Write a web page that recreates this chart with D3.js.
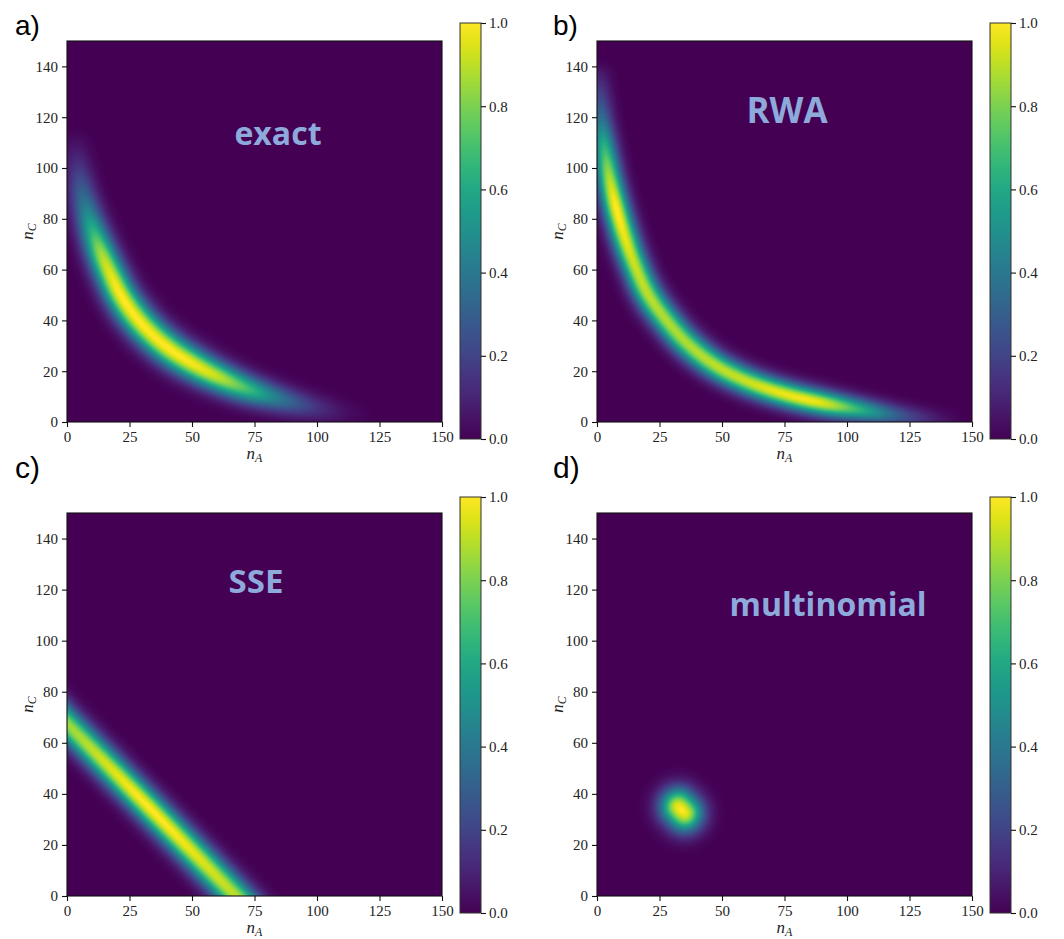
<!DOCTYPE html>
<html>
<head>
<meta charset="utf-8">
<script src="https://cdn.jsdelivr.net/npm/d3@7"></script>
<style>
  body { margin: 0; background: #fff; }
  svg { display: block; }
</style>
</head>
<body>
<div id="chart"></div>
<script>
// ticks
var xTicks = [0, 25, 50, 75, 100, 125, 150];
var yTicks = [0, 20, 40, 60, 80, 100, 120, 140];
var cbTicks = [0, 0.2, 0.4, 0.6, 0.8, 1.0];

// ridge centre lines: [nA, nC, peak, width]
var ridgeExact = [
	[3.5, 108, 0.05, 3.6],
	[4.5, 100, 0.15, 3.7],
	[6, 91, 0.3, 3.8],
	[8, 83, 0.45, 3.9],
	[10.5, 75, 0.65, 4.0],
	[13.5, 67, 0.85, 4.1],
	[17, 59, 0.95, 4.2],
	[21.5, 50, 1.0, 4.3],
	[27, 42, 1.0, 4.4],
	[34, 34.5, 1.0, 4.4],
	[42, 28, 1.0, 4.4],
	[51, 22.5, 0.98, 4.3],
	[61, 17.5, 0.9, 4.1],
	[72, 13, 0.7, 3.9],
	[84, 9.3, 0.42, 3.7],
	[96, 6.3, 0.2, 3.5],
	[108, 4, 0.06, 3.3],
	[118, 2.5, 0.01, 3.1]
];
var ridgeRWA = [
	[0.5, 135, 0.1, 3.2],
	[1.5, 120, 0.35, 3.3],
	[3, 108, 0.65, 3.4],
	[5, 96, 0.88, 3.5],
	[7.5, 85, 1.0, 3.6],
	[11, 73, 0.97, 3.7],
	[15, 62, 0.92, 3.7],
	[20, 51, 0.9, 3.8],
	[27, 41, 0.88, 3.8],
	[36, 31, 0.88, 3.8],
	[47, 22.5, 0.9, 3.7],
	[60, 16, 0.92, 3.6],
	[75, 11, 0.97, 3.5],
	[90, 7.5, 0.95, 3.4],
	[105, 4.8, 0.65, 3.2],
	[120, 2.5, 0.3, 3.0],
	[133, 1, 0.1, 2.9],
	[142, 0, 0.02, 2.8]
];
var ridgeSSE = [
	[-10, 77.5, 0.85, 4.0],
	[0, 67.5, 0.85, 4.0],
	[33, 34.5, 1.0, 4.0],
	[67, 0.5, 0.9, 4.2],
	[77, -9.5, 0.9, 4.2]
];
var ridgeMultinomial = [
	[32.6, 34.9, 0.97, 5.0],
	[33.8, 33.7, 1.0, 5.0],
	[35.0, 32.5, 0.97, 5.0]
];

var panelLetters = ["a)", "b)", "c)", "d)"];
var panelNames = ["exact", "RWA", "SSE", "multinomial"];
// where the inset name sits, in data units [nA, nC]
var nameSpots = [[84.4, 109], [76, 117.7], [75.6, 118.8], [92.4, 109.8]];

var ridges = [ridgeExact, ridgeRWA, ridgeSSE, ridgeMultinomial];

// layout of the four panels
var layout = [
	{left: 67, top: 41, w: 375, h: 381, cbX: 460, cbTop: 23, cbBot: 439, lx: 15, ly: 35, lsize: 28, nsize: 32},
	{left: 597, top: 41, w: 375, h: 381, cbX: 990, cbTop: 23, cbBot: 439, lx: 553, ly: 35, lsize: 28, nsize: 35},
	{left: 67, top: 513, w: 375, h: 383, cbX: 460, cbTop: 497, cbBot: 913, lx: 15, ly: 478, lsize: 30, nsize: 33},
	{left: 597, top: 513, w: 375, h: 383, cbX: 990, cbTop: 497, cbBot: 913, lx: 553, ly: 478, lsize: 30, nsize: 32}
];

var color = d3.scaleSequential(d3.interpolateViridis).domain([0, 1]);
var tickFont = "'Liberation Serif', 'Times New Roman', serif";

var svg = d3.select("#chart").append("svg")
	.attr("width", 1064)
	.attr("height", 939);

// colorbar gradient
var grad = svg.append("defs").append("linearGradient")
	.attr("id", "viridis")
	.attr("x1", 0).attr("y1", 1).attr("x2", 0).attr("y2", 0);
d3.range(0, 1.0001, 0.05).forEach(function(t) {
	grad.append("stop").attr("offset", t).attr("stop-color", color(t));
});

// smooth the read points (Catmull-Rom) so the drawn ridge has no corners
function smoothRidge(pts, steps) {
	var out = [];
	var n = pts.length;
	for (var i = 0; i < n - 1; i++) {
		var p0 = pts[Math.max(0, i - 1)], p1 = pts[i], p2 = pts[i + 1], p3 = pts[Math.min(n - 1, i + 2)];
		for (var s = 0; s < steps; s++) {
			var t = s / steps, t2 = t * t, t3 = t2 * t;
			out.push(p1.map(function(_, m) {
				return 0.5 * (2 * p1[m] + (-p0[m] + p2[m]) * t +
					(2 * p0[m] - 5 * p1[m] + 4 * p2[m] - p3[m]) * t2 +
					(-p0[m] + 3 * p1[m] - 3 * p2[m] + p3[m]) * t3);
			}));
		}
	}
	out.push(pts[n - 1]);
	return out;
}

// value of the field at a point, from the ridge line
function fieldAt(pts, a, c) {
	var best = 0;
	for (var i = 0; i < pts.length - 1; i++) {
		var p1 = pts[i], p2 = pts[i + 1];
		var dx = p2[0] - p1[0], dy = p2[1] - p1[1];
		var len2 = dx * dx + dy * dy || 1e-9;
		var t = ((a - p1[0]) * dx + (c - p1[1]) * dy) / len2;
		t = Math.max(0, Math.min(1, t));
		var qx = p1[0] + t * dx, qy = p1[1] + t * dy;
		var d2 = (a - qx) * (a - qx) + (c - qy) * (c - qy);
		var pk = p1[2] + t * (p2[2] - p1[2]);
		var s = p1[3] + t * (p2[3] - p1[3]);
		var v = pk * Math.exp(-d2 / (2 * s * s));
		if (v > best) best = v;
	}
	return best;
}

layout.forEach(function(p, k) {

	var x = d3.scaleLinear().domain([0, 150]).range([p.left, p.left + p.w]);
	var y = d3.scaleLinear().domain([0, 150]).range([p.top + p.h, p.top]);
	var line = smoothRidge(ridges[k], 8);

	// heatmap drawn pixel by pixel into a canvas
	var cnv = document.createElement("canvas");
	cnv.width = p.w;
	cnv.height = p.h;
	var ctx = cnv.getContext("2d");
	var img = ctx.createImageData(p.w, p.h);
	for (var j = 0; j < p.h; j++) {
		var nC = y.invert(p.top + j + 0.5);
		for (var i = 0; i < p.w; i++) {
			var nA = x.invert(p.left + i + 0.5);
			var c = d3.rgb(color(fieldAt(line, nA, nC)));
			var o = (j * p.w + i) * 4;
			img.data[o] = c.r;
			img.data[o + 1] = c.g;
			img.data[o + 2] = c.b;
			img.data[o + 3] = 255;
		}
	}
	ctx.putImageData(img, 0, 0);

	svg.append("image")
		.attr("x", p.left)
		.attr("y", p.top)
		.attr("width", p.w)
		.attr("height", p.h)
		.attr("href", cnv.toDataURL());

	// frame
	svg.append("rect")
		.attr("x", p.left)
		.attr("y", p.top)
		.attr("width", p.w)
		.attr("height", p.h)
		.attr("fill", "none")
		.attr("stroke", "#111")
		.attr("stroke-width", 1.1);

	// axes
	var xAxis = svg.append("g")
		.attr("transform", "translate(0," + (p.top + p.h) + ")")
		.call(d3.axisBottom(x).tickValues(xTicks).tickSize(5).tickPadding(4));
	var yAxis = svg.append("g")
		.attr("transform", "translate(" + p.left + ",0)")
		.call(d3.axisLeft(y).tickValues(yTicks).tickSize(5).tickPadding(4));
	[xAxis, yAxis].forEach(function(ax) {
		ax.attr("font-family", null).attr("font-size", null);
		ax.select(".domain").remove();
		ax.selectAll("line").attr("stroke", "#111").attr("stroke-width", 1.1);
		ax.selectAll("text")
			.attr("fill", "#222")
			.attr("font-family", tickFont)
			.attr("font-size", 15);
	});

	// axis labels
	var xl = svg.append("text")
		.attr("x", p.left + p.w / 2)
		.attr("y", p.top + p.h + 37)
		.attr("text-anchor", "middle")
		.attr("font-family", tickFont)
		.attr("font-style", "italic")
		.attr("font-size", 17)
		.attr("fill", "#222");
	xl.append("tspan").text("n");
	xl.append("tspan").attr("dy", 3).attr("font-size", 12).text("A");

	var yl = svg.append("text")
		.attr("transform", "translate(" + (p.left - 34) + "," + (p.top + p.h / 2) + ") rotate(-90)")
		.attr("text-anchor", "middle")
		.attr("font-family", tickFont)
		.attr("font-style", "italic")
		.attr("font-size", 17)
		.attr("fill", "#222");
	yl.append("tspan").text("n");
	yl.append("tspan").attr("dy", 3).attr("font-size", 12).text("C");

	// inset name
	svg.append("text")
		.attr("x", x(nameSpots[k][0]))
		.attr("y", y(nameSpots[k][1]))
		.attr("text-anchor", "middle")
		.attr("font-family", "'Open Sans', sans-serif")
		.attr("font-weight", "bold")
		.attr("font-size", p.nsize)
		.attr("fill", "#8eaadb")
		.text(panelNames[k]);

	// panel letter
	svg.append("text")
		.attr("x", p.lx)
		.attr("y", p.ly)
		.attr("font-family", "'Liberation Sans', Arial, sans-serif")
		.attr("font-size", p.lsize)
		.attr("fill", "#000")
		.text(panelLetters[k]);

	// colorbar
	var cb = d3.scaleLinear().domain([0, 1]).range([p.cbBot, p.cbTop]);
	svg.append("rect")
		.attr("x", p.cbX)
		.attr("y", p.cbTop)
		.attr("width", 21)
		.attr("height", p.cbBot - p.cbTop)
		.attr("fill", "url(#viridis)")
		.attr("stroke", "#333")
		.attr("stroke-width", 1);
	var cbAxis = svg.append("g")
		.attr("transform", "translate(" + (p.cbX + 21) + ",0)")
		.call(d3.axisRight(cb).tickValues(cbTicks).tickSize(5).tickPadding(3).tickFormat(d3.format(".1f")));
	cbAxis.attr("font-family", null).attr("font-size", null);
	cbAxis.select(".domain").remove();
	cbAxis.selectAll("line").attr("stroke", "#111").attr("stroke-width", 1.1);
	cbAxis.selectAll("text")
		.attr("fill", "#222")
		.attr("font-family", tickFont)
		.attr("font-size", 15);
});
</script>
</body>
</html>
